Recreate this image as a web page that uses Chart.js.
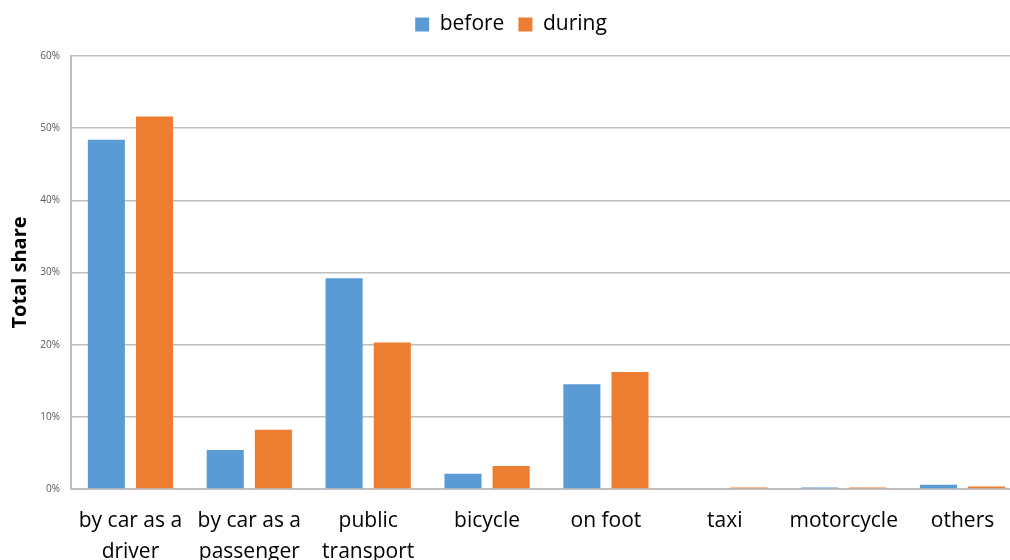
<!DOCTYPE html>
<html lang="en">
<head>
    <meta charset="UTF-8">
    <title>mode share before and during</title>
    <script src="https://cdn.jsdelivr.net/npm/chart.js"></script>
    <style>
        html, body { margin: 0; padding: 0; background: #fff; overflow: hidden; }
        #wrap { width: 1022px; height: 560px; }
    </style>
</head>
<body>
    <div id="wrap"><canvas id="modeChart"></canvas></div>

    <script>
        // values, in percent
        const categories = [['by car as a', 'driver'], ['by car as a', 'passenger'], ['public', 'transport'],
                            'bicycle', 'on foot', 'taxi', 'motorcycle', 'others'];
        const beforeShare = [48.4, 5.4, 29.2, 2.1, 14.5, 0, 0.2, 0.6];
        const duringShare = [51.6, 8.2, 20.3, 3.2, 16.2, 0.2, 0.2, 0.35];
        const yTicks = [0, 10, 20, 30, 40, 50, 60];

        const fontName = "'Open Sans', 'Noto Sans', sans-serif";

        // push the plot down a bit below the legend
        const legendGap = {
            id: 'legendGap',
            beforeInit(chart) {
                const fit = chart.legend.fit;
                chart.legend.fit = function() {
                    fit.bind(chart.legend)();
                    this.height += 11;
                };
            }
        };

        new Chart(document.getElementById('modeChart'), {
            type: 'bar',
            data: {
                labels: categories,
                datasets: [
                    { label: 'before', data: beforeShare, backgroundColor: '#5B9BD5' },
                    { label: 'during', data: duringShare, backgroundColor: '#ED7D31' }
                ]
            },
            plugins: [legendGap],
            options: {
                responsive: true,
                maintainAspectRatio: false,
                animation: false,
                plugins: {
                    legend: {
                        position: 'top',
                        labels: {
                            boxWidth: 14,
                            boxHeight: 14,
                            padding: 14,
                            color: '#000',
                            font: { family: fontName, size: 21 }
                        }
                    },
                    tooltip: { enabled: false }
                },
                datasets: {
                    bar: { categoryPercentage: 0.81, barPercentage: 0.77 }
                },
                scales: {
                    x: {
                        grid: { display: false, drawTicks: false },
                        border: { color: '#BFBFBF', width: 2 },
                        ticks: {
                            color: '#000',
                            padding: 17,
                            maxRotation: 0,
                            autoSkip: false,
                            font: { family: fontName, size: 21, lineHeight: 1.45 }
                        },
                        afterFit: function(scale) { scale.height = 71; }
                    },
                    y: {
                        min: 0,
                        max: 60,
                        afterBuildTicks: function(scale) {
                            scale.ticks = yTicks.map(v => ({ value: v }));
                        },
                        grid: { color: '#BFBFBF', lineWidth: 1.5, drawTicks: false },
                        border: { color: '#BFBFBF', width: 2 },
                        ticks: {
                            color: '#595959',
                            padding: 11,
                            font: { family: fontName, size: 10 },
                            callback: v => v + '%'
                        },
                        title: {
                            display: true,
                            text: 'Total share',
                            color: '#000',
                            padding: { top: 8, bottom: 8 },
                            font: { family: fontName, size: 20, weight: 'bold' }
                        },
                        afterFit: function(scale) { scale.width = 71; }
                    }
                }
            }
        });
    </script>
</body>
</html>
